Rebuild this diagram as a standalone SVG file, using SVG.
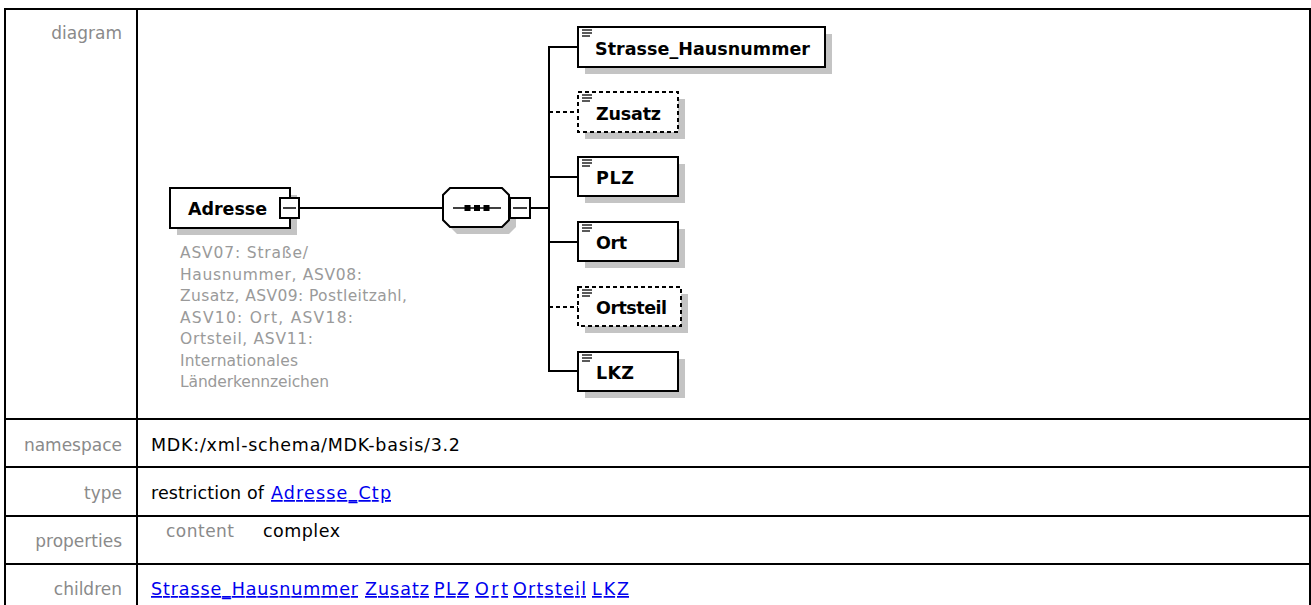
<svg xmlns="http://www.w3.org/2000/svg" width="1311" height="605" viewBox="0 0 1311 605">
<style>
.grid{stroke:#000;stroke-width:2;fill:none}
.lbl{font-family:"DejaVu Sans",sans-serif;font-size:17px;fill:#8a8a8a;text-anchor:end}
.val{font-family:"DejaVu Sans",sans-serif;font-size:17.5px;fill:#000}
.lnk{font-family:"DejaVu Sans",sans-serif;font-size:17.5px;fill:#0000ee;text-decoration:underline}
.desc{font-family:"DejaVu Sans",sans-serif;font-size:15.5px;fill:#9a9a9a}
.name{font-family:"DejaVu Sans",sans-serif;font-size:17.5px;font-weight:bold;fill:#000}
.box{fill:#fff;stroke:#000;stroke-width:2}
.opt{fill:#fff;stroke:#000;stroke-width:2;stroke-dasharray:4 3}
.shd{fill:#c4c4c4}
.ln{stroke:#000;stroke-width:2;fill:none}
.dln{stroke:#000;stroke-width:2;fill:none;stroke-dasharray:4 3}
.ico{stroke:#000;stroke-width:1.3}
</style>
<defs>
<g id="icon"><line class="ico" x1="4" y1="3" x2="14" y2="3"/><line class="ico" x1="4" y1="6" x2="14" y2="6"/><line class="ico" x1="4" y1="9" x2="12" y2="9"/></g>
</defs>
<rect width="1311" height="605" fill="#fff"/>
<g id="table">
<path class="grid" d="M5,605 V9 H1310 V605 M137,9 V605 M5,419 H1310 M5,467 H1310 M5,516 H1310 M5,564 H1310"/>
<text class="lbl" x="122" y="39">diagram</text>
<text class="lbl" x="122" y="451">namespace</text>
<text class="val" x="151" y="451" textLength="309">MDK:/xml-schema/MDK-basis/3.2</text>
<text class="lbl" x="122" y="499">type</text>
<text class="val" x="151" y="499" textLength="113">restriction of</text>
<text class="lnk" x="271" y="499" textLength="120">Adresse_Ctp</text>
<text class="lbl" x="122" y="547">properties</text>
<text class="lbl" x="166" y="537" textLength="68" style="text-anchor:start">content</text>
<text class="val" x="263" y="537" textLength="77">complex</text>
<text class="lbl" x="122" y="595">children</text>
<text class="lnk" x="151" y="595" textLength="207">Strasse_Hausnummer</text>
<text class="lnk" x="365" y="595" textLength="64">Zusatz</text>
<text class="lnk" x="434" y="595" textLength="35">PLZ</text>
<text class="lnk" x="475" y="595" textLength="33">Ort</text>
<text class="lnk" x="513" y="595" textLength="73">Ortsteil</text>
<text class="lnk" x="592" y="595" textLength="37">LKZ</text>
</g>
<g id="connectors">
<line class="ln" x1="299" y1="208" x2="443" y2="208"/>
<line class="ln" x1="530" y1="208" x2="549" y2="208"/>
<line class="ln" x1="549" y1="46" x2="549" y2="372"/>
<line class="ln" x1="548" y1="47" x2="578" y2="47"/>
<line class="dln" x1="549" y1="112" x2="578" y2="112"/>
<line class="ln" x1="548" y1="177" x2="578" y2="177"/>
<line class="ln" x1="548" y1="242" x2="578" y2="242"/>
<line class="dln" x1="549" y1="307" x2="578" y2="307"/>
<line class="ln" x1="548" y1="371" x2="578" y2="371"/>
</g>
<g id="Adresse">
<rect class="shd" x="177" y="195" width="120" height="40"/>
<rect class="box" x="170" y="188" width="120" height="40"/>
<text class="name" x="188" y="215" textLength="79">Adresse</text>
<rect class="box" x="280" y="198" width="19" height="20"/>
<line class="ln" x1="283" y1="208" x2="296" y2="208" style="stroke-width:1.5"/>
<text class="desc" x="180" y="258" textLength="128">ASV07: Straße/</text>
<text class="desc" x="180" y="279.5" textLength="182">Hausnummer, ASV08:</text>
<text class="desc" x="180" y="301" textLength="227">Zusatz, ASV09: Postleitzahl,</text>
<text class="desc" x="180" y="322.5" textLength="173">ASV10: Ort, ASV18:</text>
<text class="desc" x="180" y="344" textLength="133">Ortsteil, ASV11:</text>
<text class="desc" x="180" y="365.5" textLength="118">Internationales</text>
<text class="desc" x="180" y="387" textLength="149">Länderkennzeichen</text>
</g>
<g id="sequence">
<polygon class="shd" points="457,195 509,195 516,202 516,227 509,234 457,234 450,227 450,202"/>
<polygon class="box" points="450,188 502,188 509,195 509,220 502,227 450,227 443,220 443,195"/>
<line class="ln" x1="453" y1="208" x2="501" y2="208" style="stroke-width:1.5"/>
<rect x="464.5" y="205" width="6" height="6" fill="#000"/>
<rect x="474" y="205" width="6" height="6" fill="#000"/>
<rect x="483.5" y="205" width="6" height="6" fill="#000"/>
<rect class="box" x="510" y="198" width="20" height="20"/>
<line class="ln" x1="513" y1="208" x2="527" y2="208" style="stroke-width:1.5"/>
</g>
<g id="Strasse_Hausnummer">
<rect class="shd" x="585" y="34" width="247" height="40"/>
<rect class="box" x="578" y="27" width="247" height="40"/>
<use href="#icon" x="578" y="27"/>
<text class="name" x="595" y="55" textLength="215">Strasse_Hausnummer</text>
</g>
<g id="Zusatz">
<rect class="shd" x="585" y="99" width="100" height="40"/>
<rect class="opt" x="578" y="92" width="100" height="40"/>
<use href="#icon" x="578" y="92"/>
<text class="name" x="596" y="120" textLength="65">Zusatz</text>
</g>
<g id="PLZ">
<rect class="shd" x="585" y="164" width="100" height="39"/>
<rect class="box" x="578" y="157" width="100" height="39"/>
<use href="#icon" x="578" y="157"/>
<text class="name" x="596" y="184" textLength="38">PLZ</text>
</g>
<g id="Ort">
<rect class="shd" x="585" y="229" width="100" height="39"/>
<rect class="box" x="578" y="222" width="100" height="39"/>
<use href="#icon" x="578" y="222"/>
<text class="name" x="596" y="249" textLength="31">Ort</text>
</g>
<g id="Ortsteil">
<rect class="shd" x="585" y="294" width="103" height="39"/>
<rect class="opt" x="578" y="287" width="103" height="39"/>
<use href="#icon" x="578" y="287"/>
<text class="name" x="596" y="314" textLength="71">Ortsteil</text>
</g>
<g id="LKZ">
<rect class="shd" x="585" y="359" width="100" height="39"/>
<rect class="box" x="578" y="352" width="100" height="39"/>
<use href="#icon" x="578" y="352"/>
<text class="name" x="596" y="379" textLength="38">LKZ</text>
</g>
</svg>
